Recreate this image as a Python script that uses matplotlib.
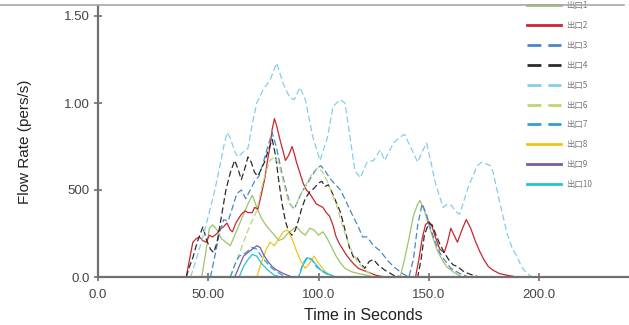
import matplotlib
matplotlib.use("Agg")
import matplotlib.pyplot as plt
from matplotlib.lines import Line2D
import numpy as np

plt.rcParams['font.family'] = ['Liberation Sans', 'DejaVu Sans']

# ---- data: (time [s], flow rate [pers/s]) per exit ----
t1 = [47, 49, 50.5, 52, 54, 56, 58, 60, 62, 64, 66, 68, 70, 72, 74, 76, 78, 80, 82, 84, 86, 88, 90,
      92, 94, 96, 98, 100, 102, 104, 106, 108, 110, 112, 115, 118, 122, 125,
      137, 139, 141, 143, 145, 146, 148, 150, 152, 154, 156, 158, 161, 165]
y1 = [0, 0.15, 0.28, 0.30, 0.27, 0.22, 0.20, 0.18, 0.24, 0.30, 0.36, 0.42, 0.47, 0.40, 0.34, 0.30, 0.27,
      0.24, 0.21, 0.22, 0.25, 0.27, 0.29, 0.26, 0.24, 0.28, 0.27, 0.24, 0.26, 0.22, 0.17, 0.12, 0.08,
      0.05, 0.03, 0.02, 0.01, 0,
      0, 0.10, 0.22, 0.35, 0.42, 0.44, 0.38, 0.30, 0.22, 0.15, 0.10, 0.06, 0.03, 0]

t2 = [40, 41.5, 43, 44.5, 46, 47.5, 49, 50.5, 52, 54, 55, 57, 58.5, 60, 61, 62.5, 63.5, 65, 66.7, 68,
      70, 71, 72.5, 74, 75.7, 77, 78, 79, 80, 81, 82.5, 84, 85, 86.5, 88, 89, 90, 91.5, 93, 94.5, 96,
      97.5, 99, 100.5, 102, 103.5, 105, 106.5, 108, 109.5, 111, 113, 115.6, 118, 122, 126, 130,
      144, 145.5, 147, 148.5, 150, 151.5, 153, 155, 157, 158.5, 160, 161.5, 163, 165, 167, 169, 171,
      173, 175, 177, 179, 182, 185.5, 190]
y2 = [0, 0.10, 0.20, 0.22, 0.23, 0.21, 0.20, 0.24, 0.23, 0.25, 0.27, 0.29, 0.31, 0.27, 0.26, 0.31,
      0.33, 0.36, 0.38, 0.37, 0.37, 0.40, 0.39, 0.47, 0.57, 0.68, 0.75, 0.85, 0.91, 0.87, 0.79, 0.72,
      0.67, 0.70, 0.75, 0.71, 0.66, 0.60, 0.54, 0.50, 0.48, 0.45, 0.42, 0.41, 0.40, 0.37, 0.35, 0.30,
      0.23, 0.19, 0.16, 0.12, 0.08, 0.05, 0.03, 0.01, 0,
      0, 0.10, 0.22, 0.30, 0.32, 0.29, 0.23, 0.16, 0.14, 0.20, 0.28, 0.24, 0.20, 0.27, 0.33, 0.28,
      0.21, 0.15, 0.10, 0.06, 0.04, 0.02, 0.01, 0]

t3 = [51, 53, 55, 57, 59, 61, 63, 65, 67, 69, 71, 73, 75, 77, 79, 81, 83, 85, 87, 89, 91, 93, 95, 97,
      99, 101, 103, 105, 107, 110, 113, 115.6, 118, 120, 122, 125, 128, 131, 134, 138, 141,
      143, 145, 147, 149, 151, 153, 155, 157, 160, 164, 168]
y3 = [0, 0.12, 0.25, 0.33, 0.32, 0.40, 0.48, 0.50, 0.45, 0.50, 0.55, 0.58, 0.66, 0.75, 0.83, 0.74,
      0.62, 0.52, 0.42, 0.39, 0.45, 0.50, 0.54, 0.58, 0.62, 0.64, 0.61, 0.57, 0.54, 0.50, 0.42, 0.35,
      0.29, 0.23, 0.23, 0.18, 0.15, 0.10, 0.06, 0.02, 0,
      0.10, 0.30, 0.42, 0.36, 0.27, 0.20, 0.14, 0.10, 0.05, 0.02, 0]

t4 = [40, 41.5, 43, 45, 47.6, 49, 51, 52.5, 54, 56, 58, 60, 62, 63.5, 65, 66.5, 68, 69.5, 71, 72.5, 74,
      75.5, 77, 79, 80.5, 82, 83.5, 85, 86.5, 88, 89.5, 91, 92.5, 94, 96, 98, 100, 101.5, 103, 104.5,
      106, 108, 110, 112, 114, 116, 117.5, 119, 121, 123, 125, 127, 130, 134, 138,
      145, 146.5, 148, 150, 151.5, 153, 155, 157, 159, 161, 163, 166, 170, 173]
y4 = [0, 0.06, 0.11, 0.20, 0.29, 0.22, 0.16, 0.14, 0.20, 0.35, 0.50, 0.60, 0.67, 0.62, 0.56, 0.62,
      0.69, 0.66, 0.60, 0.58, 0.62, 0.66, 0.72, 0.79, 0.70, 0.55, 0.42, 0.32, 0.26, 0.24, 0.27, 0.33,
      0.40, 0.45, 0.49, 0.51, 0.54, 0.55, 0.52, 0.53, 0.49, 0.43, 0.37, 0.27, 0.17, 0.11, 0.11, 0.08,
      0.05, 0.09, 0.10, 0.07, 0.04, 0.01, 0,
      0, 0.10, 0.24, 0.31, 0.30, 0.25, 0.19, 0.14, 0.10, 0.07, 0.06, 0.03, 0.01, 0]

t5 = [42, 45, 48, 51, 53, 55, 57, 58.5, 60, 62, 63.5, 66, 68, 70, 72, 75, 78, 81, 84, 87, 89, 91.6, 94,
      97.5, 100.7, 104, 106.6, 109.8, 112, 114, 116.5, 119, 122, 125, 128, 130, 132, 134, 136.5, 139,
      142, 145, 147, 149, 151, 153, 156.5, 158.5, 160.5, 162, 164, 166, 168, 170, 172, 174, 176, 178,
      179, 182, 185.5, 188, 190, 192, 194.5, 197]
y5 = [0, 0.12, 0.25, 0.40, 0.50, 0.62, 0.75, 0.83, 0.80, 0.72, 0.69, 0.72, 0.74, 0.88, 1.00, 1.08,
      1.13, 1.23, 1.11, 1.03, 1.02, 1.09, 1.02, 0.80, 0.67, 0.80, 0.98, 1.02, 1.00, 0.83, 0.61, 0.57,
      0.66, 0.67, 0.73, 0.67, 0.72, 0.77, 0.80, 0.82, 0.74, 0.66, 0.72, 0.77, 0.66, 0.54, 0.40, 0.42,
      0.41, 0.38, 0.36, 0.44, 0.52, 0.58, 0.64, 0.66, 0.65, 0.64, 0.61, 0.44, 0.25, 0.16, 0.12, 0.06,
      0.02, 0]

t6 = [60, 63, 66, 69, 72, 74, 76, 78, 80, 82, 84, 86, 88, 90, 92, 94, 96, 98, 100, 102, 104, 106, 108,
      110, 112, 115, 118, 122, 126]
y6 = [0, 0.10, 0.20, 0.30, 0.38, 0.50, 0.60, 0.67, 0.69, 0.65, 0.55, 0.45, 0.40, 0.42, 0.48, 0.52,
      0.57, 0.61, 0.63, 0.60, 0.55, 0.48, 0.42, 0.33, 0.25, 0.15, 0.08, 0.03, 0]

t7 = [60, 62, 64, 66, 68, 70, 72, 74, 76, 78, 81, 85, 91, 93, 95, 97, 99, 102, 106]
y7 = [0, 0.07, 0.12, 0.13, 0.15, 0.17, 0.16, 0.12, 0.09, 0.06, 0.03, 0, 0, 0.08, 0.115, 0.10, 0.06,
      0.03, 0]

t8 = [72, 74, 76, 78, 80, 82, 84, 86, 88, 90, 92, 94, 96, 98, 100, 103, 106]
y8 = [0, 0.08, 0.15, 0.20, 0.18, 0.22, 0.26, 0.27, 0.22, 0.15, 0.09, 0.05, 0.08, 0.12, 0.08, 0.03, 0]

t9 = [62, 64, 66, 68, 70, 72, 73.5, 75, 77, 79, 81, 84, 88]
y9 = [0, 0.06, 0.12, 0.14, 0.16, 0.18, 0.17, 0.13, 0.09, 0.06, 0.04, 0.02, 0]

t10 = [64, 66, 68, 70, 72, 74, 77, 80, 83, 91, 93, 95, 97, 99, 101, 104, 108]
y10 = [0, 0.06, 0.10, 0.13, 0.12, 0.08, 0.04, 0.01, 0, 0, 0.07, 0.11, 0.10, 0.07, 0.04, 0.02, 0]

labels = ['出口1', '出口2', '出口3', '出口4', '出口5', '出口6', '出口7', '出口8', '出口9', '出口10']
xticks = [0, 50, 100, 150, 200]
xticklabels = ['0.0', '50.00', '100.0', '150.0', '200.0']
yticks = [0, 0.5, 1.0, 1.5]
yticklabels = ['0.0', '500', '1.00', '1.50']

series = [(t1, y1), (t2, y2), (t3, y3), (t4, y4), (t5, y5),
          (t6, y6), (t7, y7), (t8, y8), (t9, y9), (t10, y10)]
colors = ['#9cc46b', '#c8262f', '#4a86c5', '#2b2b2b', '#86cdea',
          '#bcd672', '#2f9fd8', '#f3c31c', '#7a5aa6', '#22c4d3']
dashed = [False, False, True, True, True, True, True, False, False, False]

fig = plt.figure(figsize=(6.29, 3.25), dpi=100)
ax = fig.add_axes([98 / 629, 48 / 325, 1 - 98 / 629, (277 - 6) / 325])

handles = []
for (t, y), c, d, lab in zip(series, colors, dashed, labels):
    if d:
        ln, = ax.plot(t, y, color=c, lw=0.9, dashes=(5, 2.5), label=lab)
    else:
        ln, = ax.plot(t, y, color=c, lw=0.9, label=lab)
    handles.append(ln)

ax.set_xlim(0, 240.8)
ax.set_ylim(0, (277 - 6) / 174)
ax.set_xticks(xticks)
ax.set_xticklabels(xticklabels)
ax.set_yticks(yticks)
ax.set_yticklabels(yticklabels)

for s in ['top', 'right']:
    ax.spines[s].set_visible(False)
for s in ['left', 'bottom']:
    ax.spines[s].set_color('#707070')
    ax.spines[s].set_linewidth(1.6)
ax.tick_params(direction='inout', length=6, width=1.2, color='#707070',
               labelsize=9.5, labelcolor='#444444')
ax.tick_params(axis='x', pad=6)
ax.tick_params(axis='y', pad=3)

ax.set_xlabel('Time in Seconds', fontsize=11.5, color='#222222', labelpad=5)
ax.set_ylabel('Flow Rate (pers/s)', fontsize=11, color='#222222', labelpad=23)

leg = ax.legend(handles=handles, loc='upper left', bbox_to_anchor=(524 / 629, 1 + 2 / 325),
                bbox_transform=fig.transFigure, frameon=False,
                prop={'family': ['Noto Sans CJK SC', 'DejaVu Sans'], 'size': 6},
                handlelength=4.0, handletextpad=0.6, labelspacing=1.3, borderaxespad=0)
for txt in leg.get_texts():
    txt.set_color('#777777')
for ln in leg.get_lines():
    ln.set_linewidth(2.0)

# thin rule across the top of the figure
fig.add_artist(Line2D([0, 0.992], [1 - 5 / 325, 1 - 5 / 325], transform=fig.transFigure,
                      color='#a8a8a8', lw=1.2))

fig.savefig('out.png', dpi=100)
